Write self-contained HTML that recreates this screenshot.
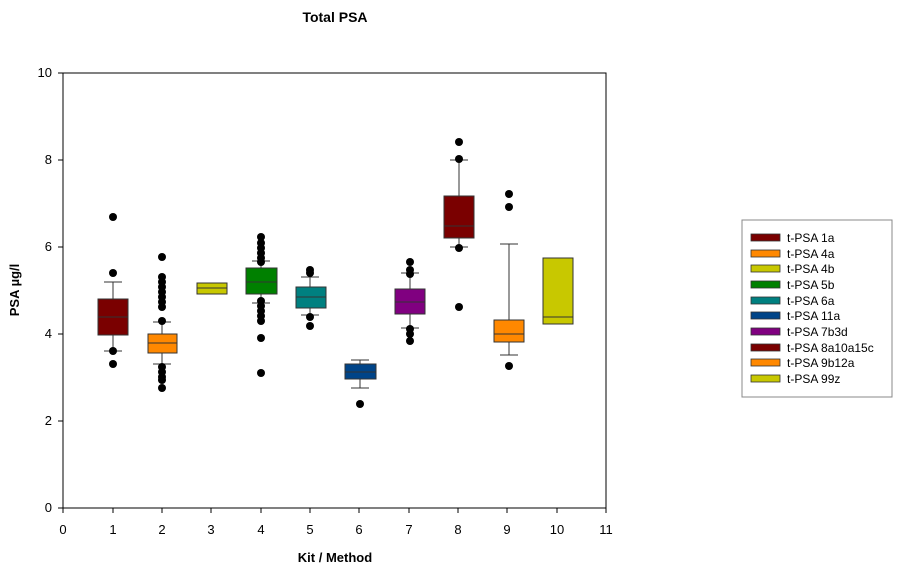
<!DOCTYPE html>
<html><head><meta charset="utf-8"><style>body{margin:0;background:#fff}svg{display:block;font-family:"Liberation Sans",Arial,sans-serif}</style></head>
<body>
<svg width="900" height="572" viewBox="0 0 900 572" xmlns="http://www.w3.org/2000/svg">
<text x="335" y="22" font-size="14" font-weight="bold" text-anchor="middle">Total PSA</text>
<rect x="63" y="73" width="543" height="435" fill="none" stroke="#000" stroke-width="1"/>
<g stroke="#000" stroke-width="1">
<line x1="58" y1="508" x2="63" y2="508"/><line x1="58" y1="421" x2="63" y2="421"/><line x1="58" y1="334" x2="63" y2="334"/><line x1="58" y1="247" x2="63" y2="247"/><line x1="58" y1="160" x2="63" y2="160"/><line x1="58" y1="73" x2="63" y2="73"/>
<line x1="63" y1="508" x2="63" y2="513"/><line x1="113" y1="508" x2="113" y2="513"/><line x1="162" y1="508" x2="162" y2="513"/><line x1="211" y1="508" x2="211" y2="513"/><line x1="261" y1="508" x2="261" y2="513"/><line x1="310" y1="508" x2="310" y2="513"/><line x1="359" y1="508" x2="359" y2="513"/><line x1="409" y1="508" x2="409" y2="513"/><line x1="458" y1="508" x2="458" y2="513"/><line x1="507" y1="508" x2="507" y2="513"/><line x1="557" y1="508" x2="557" y2="513"/><line x1="606" y1="508" x2="606" y2="513"/>
</g>
<g font-size="13" text-anchor="end">
<text x="52" y="512">0</text><text x="52" y="425">2</text><text x="52" y="338">4</text><text x="52" y="251">6</text><text x="52" y="164">8</text><text x="52" y="77">10</text>
</g>
<g font-size="13" text-anchor="middle">
<text x="63" y="534">0</text><text x="113" y="534">1</text><text x="162" y="534">2</text><text x="211" y="534">3</text><text x="261" y="534">4</text><text x="310" y="534">5</text><text x="359" y="534">6</text><text x="409" y="534">7</text><text x="458" y="534">8</text><text x="507" y="534">9</text><text x="557" y="534">10</text><text x="606" y="534">11</text>
</g>
<text x="335" y="562" font-size="13" font-weight="bold" text-anchor="middle">Kit / Method</text>
<text transform="translate(19,290) rotate(-90)" font-size="13" font-weight="bold" text-anchor="middle">PSA µg/l</text>

<g stroke="#333" stroke-width="1">
<line x1="113" y1="282" x2="113" y2="351"/><line x1="104" y1="282" x2="122" y2="282"/><line x1="104" y1="351" x2="122" y2="351"/>
<line x1="162" y1="322" x2="162" y2="364"/><line x1="153" y1="322" x2="171" y2="322"/><line x1="153" y1="364" x2="171" y2="364"/>
<line x1="261" y1="261" x2="261" y2="303"/><line x1="252" y1="261" x2="270" y2="261"/><line x1="252" y1="303" x2="270" y2="303"/>
<line x1="310" y1="277" x2="310" y2="315"/><line x1="301" y1="277" x2="319" y2="277"/><line x1="301" y1="315" x2="319" y2="315"/>
<line x1="360" y1="360" x2="360" y2="388"/><line x1="351" y1="360" x2="369" y2="360"/><line x1="351" y1="388" x2="369" y2="388"/>
<line x1="410" y1="273" x2="410" y2="328"/><line x1="401" y1="273" x2="419" y2="273"/><line x1="401" y1="328" x2="419" y2="328"/>
<line x1="459" y1="160" x2="459" y2="247"/><line x1="450" y1="160" x2="468" y2="160"/><line x1="450" y1="247" x2="468" y2="247"/>
<line x1="509" y1="244" x2="509" y2="355"/><line x1="500" y1="244" x2="518" y2="244"/><line x1="500" y1="355" x2="518" y2="355"/>
</g>
<g stroke="#333" stroke-width="1">
<rect x="98" y="299" width="30" height="36" fill="#7a0000"/><line x1="98" y1="317" x2="128" y2="317"/>
<rect x="148" y="334" width="29" height="19" fill="#ff8800"/><line x1="148" y1="343" x2="177" y2="343"/>
<rect x="197" y="283" width="30" height="11" fill="#c8c800"/><line x1="197" y1="288" x2="227" y2="288"/>
<rect x="246" y="268" width="31" height="26" fill="#008000"/><line x1="246" y1="282" x2="277" y2="282"/>
<rect x="296" y="287" width="30" height="21" fill="#008080"/><line x1="296" y1="297" x2="326" y2="297"/>
<rect x="345" y="364" width="31" height="15" fill="#004488"/><line x1="345" y1="372" x2="376" y2="372"/>
<rect x="395" y="289" width="30" height="25" fill="#800080"/><line x1="395" y1="302" x2="425" y2="302"/>
<rect x="444" y="196" width="30" height="42" fill="#7a0000"/><line x1="444" y1="226" x2="474" y2="226"/>
<rect x="494" y="320" width="30" height="22" fill="#ff8800"/><line x1="494" y1="334" x2="524" y2="334"/>
<rect x="543" y="258" width="30" height="66" fill="#c8c800"/><line x1="543" y1="317" x2="573" y2="317"/>
</g>
<g fill="#000">
<circle cx="113" cy="217" r="4"/><circle cx="113" cy="273" r="4"/><circle cx="113" cy="351" r="4"/><circle cx="113" cy="364" r="4"/>
<circle cx="162" cy="257" r="4"/><circle cx="162" cy="277" r="4"/><circle cx="162" cy="282" r="4"/><circle cx="162" cy="287" r="4"/><circle cx="162" cy="292" r="4"/><circle cx="162" cy="297" r="4"/><circle cx="162" cy="302" r="4"/><circle cx="162" cy="307" r="4"/><circle cx="162" cy="321" r="4"/><circle cx="162" cy="367" r="4"/><circle cx="162" cy="372" r="4"/><circle cx="162" cy="377" r="4"/><circle cx="162" cy="380" r="4"/><circle cx="162" cy="388" r="4"/>
<circle cx="261" cy="237" r="4"/><circle cx="261" cy="243" r="4"/><circle cx="261" cy="248" r="4"/><circle cx="261" cy="253" r="4"/><circle cx="261" cy="258" r="4"/><circle cx="261" cy="262" r="4"/><circle cx="261" cy="301" r="4"/><circle cx="261" cy="306" r="4"/><circle cx="261" cy="311" r="4"/><circle cx="261" cy="316" r="4"/><circle cx="261" cy="321" r="4"/><circle cx="261" cy="338" r="4"/><circle cx="261" cy="373" r="4"/>
<circle cx="310" cy="270" r="4"/><circle cx="310" cy="273" r="4"/><circle cx="310" cy="317" r="4"/><circle cx="310" cy="326" r="4"/>
<circle cx="360" cy="404" r="4"/>
<circle cx="410" cy="262" r="4"/><circle cx="410" cy="270" r="4"/><circle cx="410" cy="274" r="4"/><circle cx="410" cy="329" r="4"/><circle cx="410" cy="334" r="4"/><circle cx="410" cy="341" r="4"/>
<circle cx="459" cy="142" r="4"/><circle cx="459" cy="159" r="4"/><circle cx="459" cy="248" r="4"/><circle cx="459" cy="307" r="4"/>
<circle cx="509" cy="194" r="4"/><circle cx="509" cy="207" r="4"/><circle cx="509" cy="366" r="4"/>
</g>

<rect x="742" y="220" width="150" height="177" fill="#fff" stroke="#888" stroke-width="1"/>
<g stroke="#333" stroke-width="0.8">
<rect x="751" y="234" width="29" height="7" fill="#7a0000"/>
<rect x="751" y="250" width="29" height="7" fill="#ff8800"/>
<rect x="751" y="265" width="29" height="7" fill="#c8c800"/>
<rect x="751" y="281" width="29" height="7" fill="#008000"/>
<rect x="751" y="297" width="29" height="7" fill="#008080"/>
<rect x="751" y="312" width="29" height="7" fill="#004488"/>
<rect x="751" y="328" width="29" height="7" fill="#800080"/>
<rect x="751" y="344" width="29" height="7" fill="#7a0000"/>
<rect x="751" y="359" width="29" height="7" fill="#ff8800"/>
<rect x="751" y="375" width="29" height="7" fill="#c8c800"/>
</g>
<g font-size="12">
<text x="787" y="242">t-PSA 1a</text>
<text x="787" y="258">t-PSA 4a</text>
<text x="787" y="273">t-PSA 4b</text>
<text x="787" y="289">t-PSA 5b</text>
<text x="787" y="305">t-PSA 6a</text>
<text x="787" y="320">t-PSA 11a</text>
<text x="787" y="336">t-PSA 7b3d</text>
<text x="787" y="352">t-PSA 8a10a15c</text>
<text x="787" y="367">t-PSA 9b12a</text>
<text x="787" y="383">t-PSA 99z</text>
</g>
</svg>
</body></html>
